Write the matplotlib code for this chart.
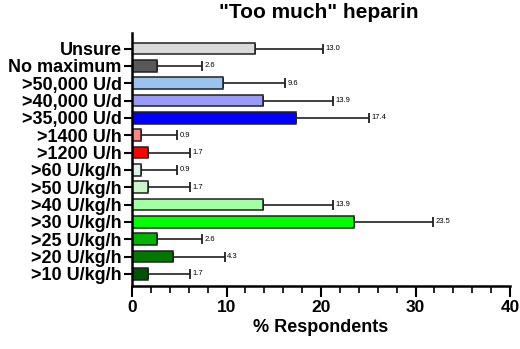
import matplotlib.pyplot as plt
from matplotlib.ticker import MultipleLocator

plt.rcParams['font.family'] = ['Liberation Sans', 'DejaVu Sans']

# data (top to bottom)
categories = ["Unsure", "No maximum", ">50,000 U/d", ">40,000 U/d", ">35,000 U/d",
              ">1400 U/h", ">1200 U/h", ">60 U/kg/h", ">50 U/kg/h", ">40 U/kg/h",
              ">30 U/kg/h", ">25 U/kg/h", ">20 U/kg/h", ">10 U/kg/h"]
values = [13.0, 2.6, 9.6, 13.9, 17.4, 0.9, 1.7, 0.9, 1.7, 13.9, 23.5, 2.6, 4.3, 1.7]
upper = [20.2, 7.4, 16.2, 21.3, 25.1, 4.8, 6.1, 4.8, 6.1, 21.3, 31.9, 7.4, 9.8, 6.1]
colors = ["#d9d9d9", "#595959", "#9cc3ef", "#9a9af7", "#0000ff",
          "#ff8585", "#ff0000", "#d8f5e6", "#cdf5cd", "#a3ffa3",
          "#00ff00", "#00b400", "#007800", "#005300"]

fig = plt.figure(figsize=(5.2, 3.49), dpi=100)
ax = fig.add_axes([132 / 520, 1 - 286 / 349, 378 / 520, 253 / 349])

y = list(range(len(categories)))
xerr = [[0] * len(values), [u - v for u, v in zip(upper, values)]]
ax.barh(y, values, height=0.68, color=colors, edgecolor="#202020", linewidth=1.1, zorder=2)
ax.errorbar(values, y, xerr=xerr, fmt="none", ecolor="#202020", elinewidth=1.2,
            capsize=3.5, capthick=1.3, zorder=1)

# value labels after the caps
for yi, u, v in zip(y, upper, values):
    ax.text(u + 0.25, yi, "%.1f" % v, fontsize=5.5, va="center", ha="left")

ax.set_xlim(0, 40)
ax.set_ylim(len(categories) - 0.3, -0.9)
ax.set_yticks(y)
ax.set_yticklabels(categories, fontsize=13, fontweight="bold")
ax.xaxis.set_major_locator(MultipleLocator(10))
ax.xaxis.set_minor_locator(MultipleLocator(2))
ax.tick_params(axis="x", which="major", length=8, width=1.5, labelsize=12.5, pad=2)
ax.tick_params(axis="x", which="minor", length=5, width=1.2)
ax.tick_params(axis="y", length=6, width=1.5, pad=1.5)
for lab in ax.get_xticklabels():
    lab.set_fontweight("bold")

for side in ["top", "right"]:
    ax.spines[side].set_visible(False)
for side in ["left", "bottom"]:
    ax.spines[side].set_linewidth(1.8)

ax.set_xlabel("% Respondents", fontsize=13, fontweight="bold", labelpad=3)
fig.text(319 / 520, 1 - 13 / 349, '"Too much" heparin', fontsize=15, fontweight="bold",
         ha="center", va="center")

fig.savefig("out.png", dpi=100)
